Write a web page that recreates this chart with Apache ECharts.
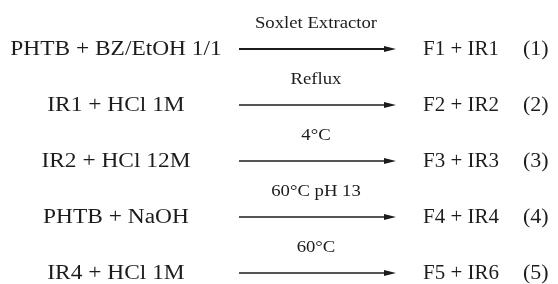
<!DOCTYPE html>
<html><head><meta charset="utf-8">
<script src="https://cdn.jsdelivr.net/npm/echarts@6/dist/echarts.min.js"></script>
<style>html,body{margin:0;padding:0;background:#fff}#c{width:558px;height:284px}</style>
</head><body><div id="c"></div>
<script>
const reactants = ['PHTB + BZ/EtOH 1/1', 'IR1 + HCl 1M', 'IR2 + HCl 12M', 'PHTB + NaOH', 'IR4 + HCl 1M'];
const conditions = ['Soxlet Extractor', 'Reflux', '4°C', '60°C pH 13', '60°C'];
const products = ['F1 + IR1', 'F2 + IR2', 'F3 + IR3', 'F4 + IR4', 'F5 + IR6'];
const eqLabels = ['(1)', '(2)', '(3)', '(4)', '(5)'];

const FONT = '"Liberation Serif", "Times New Roman", serif';
const INK = '#1c1c1c';
const chart = echarts.init(document.getElementById('c'), null, {renderer: 'canvas'});
chart.setOption({
  animation: false,
  grid: {left: 0, right: 0, top: 49, bottom: 11},
  xAxis: {type: 'value', min: 0, max: 558, show: false},
  yAxis: {type: 'value', min: 0, max: 4, inverse: true, show: false},
  series: [{
    type: 'custom',
    coordinateSystem: 'cartesian2d',
    data: reactants.map((r, i) => [0, i]),
    renderItem: function (params, api) {
      const i = params.dataIndex;
      const y = api.coord([0, api.value(1)])[1];
      const x = (v) => api.coord([v, 0])[0];
      const ax1 = x(239), ax2 = x(396);
      return {
        type: 'group',
        children: [
          {type: 'text', x: x(116), y: y + 1, scaleX: 1.17,
            style: {text: reactants[i], font: '20px ' + FONT, fill: INK, align: 'center', verticalAlign: 'middle'}},
          {type: 'line', shape: {x1: ax1, y1: y, x2: ax2 - 8, y2: y},
            style: {stroke: INK, lineWidth: i === 0 ? 2 : 1.5}},
          {type: 'polygon', shape: {points: [[ax2, y], [ax2 - 12, y - 3], [ax2 - 12, y + 3]]},
            style: {fill: INK}},
          {type: 'text', x: x(316), y: y - 25, scaleX: 1.17,
            style: {text: conditions[i], font: '16px ' + FONT, fill: INK, align: 'center', verticalAlign: 'middle'}},
          {type: 'text', x: x(423), y: y + 1, scaleX: 1.05,
            style: {text: products[i], font: '20px ' + FONT, fill: INK, align: 'left', verticalAlign: 'middle'}},
          {type: 'text', x: x(523), y: y + 1, scaleX: 1.1,
            style: {text: eqLabels[i], font: '20px ' + FONT, fill: INK, align: 'left', verticalAlign: 'middle'}}
        ]
      };
    }
  }]
});
</script></body></html>
